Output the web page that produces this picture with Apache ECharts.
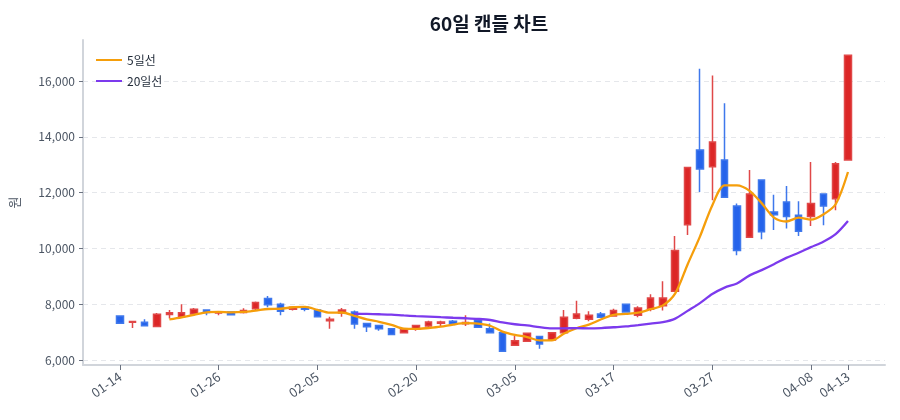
<!DOCTYPE html>
<html>
<head>
<meta charset="utf-8">
<script src="https://cdn.jsdelivr.net/npm/echarts@6/dist/echarts.min.js"></script>
<style>
  html, body { margin: 0; padding: 0; background: #fff; }
  #chart { width: 900px; height: 420px; }
</style>
</head>
<body>
<div id="chart"></div>
<script>
// 거래일 (2026)
const dates = [
  '01-14', '01-15', '01-16', '01-19', '01-20', '01-21', '01-22', '01-23', '01-26', '01-27',
  '01-28', '01-29', '01-30', '02-02', '02-03', '02-04', '02-05', '02-06', '02-09', '02-10',
  '02-11', '02-12', '02-13', '02-19', '02-20', '02-23', '02-24', '02-25', '02-26', '02-27',
  '03-03', '03-04', '03-05', '03-06', '03-09', '03-10', '03-11', '03-12', '03-13', '03-16',
  '03-17', '03-18', '03-19', '03-20', '03-23', '03-24', '03-25', '03-26', '03-27', '03-30',
  '03-31', '04-01', '04-02', '04-03', '04-06', '04-07', '04-08', '04-09', '04-10', '04-13'
]
const tickLabels = ['01-14', '01-26', '02-05', '02-20', '03-05', '03-17', '03-27', '04-08', '04-13']

// 시가, 종가, 저가, 고가
const open = [
  7580, 7350, 7350, 7200, 7630, 7550, 7650, 7790, 7680, 7720,
  7700, 7840, 8200, 8000, 7820, 7890, 7790, 7410, 7680, 7720,
  7310, 7240, 7120, 6980, 7100, 7220, 7320, 7390, 7300, 7430,
  7120, 6980, 6530, 6670, 6840, 6720, 6980, 7500, 7460, 7650,
  7580, 8000, 7600, 7820, 7940, 8460, 10850, 13530, 12930, 13170,
  11520, 10400, 12450, 11300, 11660, 11190, 11140, 11950, 11780, 13170
]
const close = [
  7320, 7380, 7230, 7640, 7690, 7695, 7820, 7700, 7710, 7620,
  7770, 8060, 7980, 7750, 7890, 7820, 7550, 7460, 7790, 7290,
  7190, 7120, 6910, 7100, 7240, 7360, 7360, 7290, 7340, 7170,
  6980, 6310, 6690, 6960, 6570, 6980, 7530, 7650, 7600, 7530,
  7770, 7720, 7860, 8220, 8220, 9920, 12900, 12850, 13810, 11830,
  9920, 11950, 10600, 11210, 11140, 10610, 11610, 11520, 13030, 16920
]
const low = [
  7320, 7150, 7220, 7190, 7490, 7520, 7620, 7600, 7600, 7610,
  7670, 7770, 7890, 7600, 7770, 7750, 7540, 7120, 7550, 7120,
  7000, 7050, 6900, 6970, 7050, 7170, 7220, 7280, 7220, 7160,
  6970, 6300, 6520, 6650, 6400, 6700, 6970, 7460, 7390, 7520,
  7550, 7710, 7530, 7750, 7770, 8450, 10480, 12020, 11730, 11820,
  9750, 10390, 10330, 10660, 10710, 10440, 10800, 10830, 11370, 13150
]
const high = [
  7590, 7400, 7460, 7680, 7790, 8000, 7860, 7800, 7740, 7740,
  7850, 8100, 8290, 8050, 7900, 7900, 7800, 7550, 7860, 7770,
  7320, 7250, 7130, 7110, 7250, 7410, 7410, 7430, 7600, 7440,
  7310, 6990, 6860, 6970, 6850, 6990, 7790, 8120, 7750, 7720,
  7840, 8010, 7930, 8360, 8820, 10440, 12920, 16440, 16200, 15200,
  11610, 12810, 12460, 11920, 12240, 11690, 13100, 11960, 13100, 16930
]

// 이동평균
const ma5 = [
  null, null, null, null, 7452, 7527, 7615, 7709, 7723, 7709,
  7724, 7772, 7828, 7836, 7890, 7900, 7798, 7694, 7702, 7582,
  7456, 7370, 7260, 7122, 7112, 7146, 7194, 7270, 7318, 7304,
  7228, 7018, 6898, 6822, 6702, 6702, 6946, 7138, 7266, 7458,
  7616, 7654, 7696, 7820, 7958, 8388, 9424, 10422, 11540, 12262,
  12262, 12072, 11622, 11102, 10964, 11102, 11034, 11218, 11582, 12738
]
const ma20 = [
  null, null, null, null, null, null, null, null, null, null,
  null, null, null, null, null, null, null, null, null, 7658,
  7652, 7639, 7623, 7596, 7573, 7557, 7534, 7513, 7495, 7472,
  7433, 7345, 7281, 7241, 7175, 7133, 7132, 7142, 7132, 7144,
  7173, 7203, 7251, 7307, 7356, 7484, 7761, 8039, 8362, 8595,
  8742, 9024, 9220, 9432, 9661, 9842, 10046, 10240, 10511, 10981
]

// 양쪽 여백용 빈 카테고리
const PAD = 3
const blanks = Array(PAD).fill('-')
const cats = [
  ...Array.from({ length: PAD }, (_, i) => '\u200b'.repeat(i + 1)),
  ...dates,
  ...Array.from({ length: PAD }, (_, i) => ' '.repeat(i + 1))
]
const candles = [...blanks, ...dates.map((d, i) => [open[i], close[i], low[i], high[i]]), ...blanks]
const pad = arr => [...blanks, ...arr.map(v => v == null ? '-' : v), ...blanks]

const showTick = (idx, val) => tickLabels.includes(val)
const fontFamily = '"Noto Sans CJK KR", "Noto Sans", sans-serif'

const chart = echarts.init(document.getElementById('chart'), null, { renderer: 'canvas' })

chart.setOption({
  animation: false,
  backgroundColor: '#fff',
  textStyle: { fontFamily },
  title: {
    text: '60일 캔들 차트',
    left: 484,
    textAlign: 'center',
    top: 9,
    textStyle: { fontSize: 19, fontWeight: 'bold', color: '#111827', fontFamily }
  },
  legend: {
    orient: 'vertical',
    left: 91,
    top: 49,
    itemWidth: 26,
    itemHeight: 2,
    itemGap: 9,
    icon: 'rect',
    textStyle: { fontSize: 12, color: '#1f2937', fontFamily },
    data: ['5일선', '20일선']
  },
  grid: { left: 83, right: 15, top: 40, bottom: 55 },
  xAxis: {
    type: 'category',
    data: cats,
    boundaryGap: false,
    axisLine: { lineStyle: { color: '#d1d5db', width: 2 } },
    axisTick: { interval: showTick, length: 5, lineStyle: { color: '#6b7280' } },
    axisLabel: { interval: showTick, rotate: 35, color: '#4b5563', fontSize: 13, margin: 10 },
    splitLine: { show: false }
  },
  yAxis: {
    type: 'value',
    min: 5820,
    max: 17470,
    name: '원',
    nameLocation: 'middle',
    nameGap: 62,
    nameTextStyle: { color: '#4b5563', fontSize: 13 },
    axisLine: { show: true, lineStyle: { color: '#d1d5db', width: 2 } },
    axisTick: { show: true, length: 4, lineStyle: { color: '#6b7280' } },
    axisLabel: {
      color: '#4b5563', fontSize: 12, margin: 8,
      showMinLabel: false, showMaxLabel: false,
      formatter: v => v.toLocaleString('en-US')
    },
    splitLine: { showMinLine: false, showMaxLine: false, lineStyle: { color: '#e5e7eb', type: [5, 4] } }
  },
  series: [
    {
      name: '캔들',
      type: 'candlestick',
      data: candles,
      barWidth: 7,
      itemStyle: {
        color: '#dc2626',
        color0: '#2563eb',
        borderColor: '#e04848',
        borderColor0: '#3f78ec',
        borderWidth: 1.5
      }
    },
    {
      name: '5일선',
      type: 'line',
      data: pad(ma5),
      smooth: 0.3,
      showSymbol: false,
      lineStyle: { color: '#f59e0b', width: 2.3 },
      itemStyle: { color: '#f59e0b' }
    },
    {
      name: '20일선',
      type: 'line',
      data: pad(ma20),
      smooth: 0.3,
      showSymbol: false,
      lineStyle: { color: '#7c3aed', width: 2.3 },
      itemStyle: { color: '#7c3aed' }
    }
  ]
})
</script>
</body>
</html>
